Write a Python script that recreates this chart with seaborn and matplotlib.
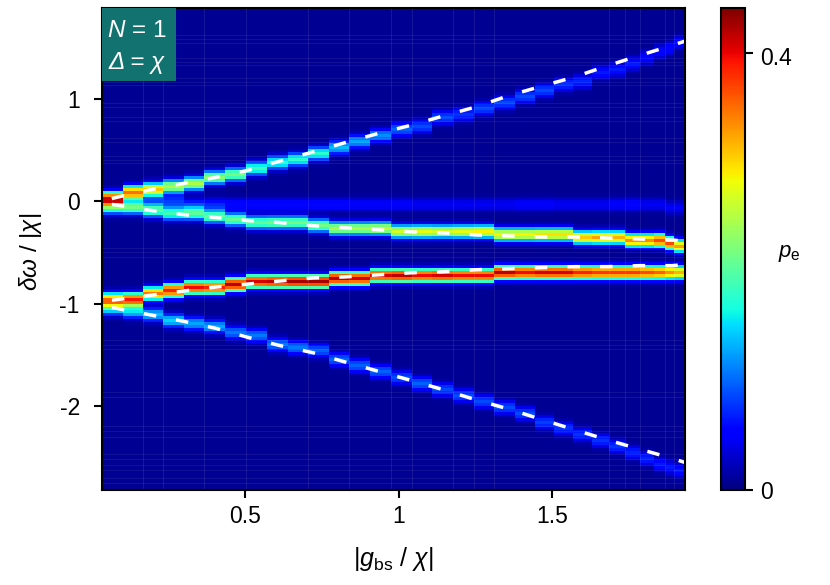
import matplotlib

matplotlib.use("Agg")
import matplotlib.pyplot as plt
from matplotlib.patches import Rectangle
from matplotlib.transforms import ScaledTranslation
import numpy as np
import seaborn as sns

# --- Values ---
X_MIN, X_MAX = 0.033, 1.930
Y_MIN, Y_MAX = -2.82, 1.885
PE_MAX = 0.441
N_ROWS = 161
COLS_PER_UNIT = 307

# Scan points are not evenly spaced, they get closer on the right
COL_EDGES = [0.033, 0.101, 0.166, 0.231, 0.300, 0.365, 0.435, 0.503, 0.570, 0.638, 0.704,
             0.772, 0.837, 0.906, 0.974, 1.042, 1.107, 1.176, 1.244, 1.309, 1.378, 1.443,
             1.505, 1.567, 1.629, 1.684, 1.736, 1.785, 1.831, 1.866, 1.896, 1.930]

# Ridge centres per column
upper_pos = [0.02, 0.08, 0.13, 0.16, 0.19, 0.23, 0.27, 0.32, 0.37, 0.42, 0.47, 0.53, 0.58, 0.63,
             0.69, 0.74, 0.81, 0.86, 0.92, 0.96, 1.03, 1.07, 1.15, 1.18, 1.26, 1.30, 1.35, 1.41,
             1.46, 1.49, 1.54]
inner_up_pos = [-0.05, -0.07, -0.09, -0.11, -0.13, -0.15, -0.17, -0.19, -0.21, -0.21, -0.23, -0.25,
                -0.26, -0.27, -0.28, -0.29, -0.29, -0.30, -0.30, -0.31, -0.32, -0.32, -0.33, -0.34,
                -0.35, -0.36, -0.37, -0.38, -0.39, -0.41, -0.43]
inner_low_pos = [-0.97, -0.95, -0.92, -0.89, -0.86, -0.84, -0.82, -0.80, -0.79, -0.78, -0.78, -0.76,
                 -0.75, -0.74, -0.74, -0.73, -0.73, -0.72, -0.72, -0.71, -0.71, -0.71, -0.71, -0.70,
                 -0.70, -0.70, -0.69, -0.69, -0.69, -0.69, -0.69]
lower_pos = [-1.04, -1.08, -1.11, -1.16, -1.19, -1.23, -1.28, -1.32, -1.39, -1.44, -1.47, -1.54,
             -1.60, -1.67, -1.73, -1.78, -1.85, -1.91, -1.97, -2.02, -2.07, -2.16, -2.22, -2.27,
             -2.33, -2.40, -2.45, -2.50, -2.56, -2.59, -2.63]
middle_pos = [-0.01, -0.01, -0.01, -0.01, -0.02, -0.02, -0.02, -0.02, -0.02, -0.02, -0.02, -0.02,
              -0.02, -0.02, -0.02, -0.02, -0.02, -0.03, -0.03, -0.03, -0.03, -0.03, -0.03, -0.03,
              -0.03, -0.03, -0.03, -0.04, -0.04, -0.05, -0.05]

# Ridge heights per column
upper_amp = [0.38, 0.34, 0.30, 0.24, 0.24, 0.22, 0.21, 0.18, 0.17, 0.17, 0.17, 0.13, 0.12, 0.11,
             0.09, 0.08, 0.08, 0.07, 0.08, 0.08, 0.08, 0.08, 0.07, 0.065, 0.06, 0.06, 0.06, 0.05,
             0.05, 0.05, 0.05]
inner_up_amp = [0.18, 0.20, 0.19, 0.18, 0.19, 0.20, 0.20, 0.20, 0.21, 0.21, 0.21, 0.24, 0.24, 0.25,
                0.26, 0.27, 0.26, 0.27, 0.28, 0.28, 0.28, 0.29, 0.29, 0.30, 0.32, 0.31, 0.33, 0.33,
                0.36, 0.36, 0.32]
inner_low_amp = [0.33, 0.38, 0.34, 0.38, 0.39, 0.38, 0.41, 0.40, 0.41, 0.42, 0.42, 0.41, 0.40, 0.40,
                 0.41, 0.39, 0.40, 0.39, 0.39, 0.41, 0.39, 0.40, 0.40, 0.38, 0.37, 0.37, 0.37, 0.36,
                 0.35, 0.33, 0.31]
lower_amp = [0.15, 0.14, 0.13, 0.14, 0.12, 0.12, 0.10, 0.10, 0.10, 0.10, 0.09, 0.09, 0.09, 0.09,
             0.08, 0.09, 0.08, 0.08, 0.08, 0.08, 0.08, 0.075, 0.07, 0.07, 0.07, 0.07, 0.065, 0.065,
             0.06, 0.06, 0.06]
middle_amp = [0.0, 0.02, 0.05, 0.07, 0.06, 0.06, 0.05, 0.05, 0.05, 0.05, 0.05, 0.05, 0.045, 0.045,
              0.045, 0.04, 0.04, 0.04, 0.04, 0.04, 0.045, 0.045, 0.04, 0.04, 0.04, 0.045, 0.05,
              0.04, 0.04, 0.04, 0.04]

# Cross-section of a ridge, relative height by row offset from the centre
RIDGE_PROFILE = [0.03, 0.12, 0.45, 0.85, 1.0, 0.85, 0.45, 0.12, 0.03]
BACKGROUND = 0.007

# White dashed curves
curve_x = [0.033, 0.085, 0.189, 0.293, 0.401, 0.508, 0.612, 0.720, 0.824, 0.932, 1.039, 1.143,
           1.251, 1.358, 1.463, 1.570, 1.678, 1.782, 1.889, 1.930]
curve_upper = [0.00, 0.04, 0.11, 0.17, 0.23, 0.30, 0.39, 0.48, 0.57, 0.66, 0.74, 0.83, 0.92, 1.03,
               1.12, 1.21, 1.32, 1.42, 1.52, 1.56]
curve_inner_up = [-0.02, -0.04, -0.09, -0.13, -0.16, -0.19, -0.21, -0.24, -0.26, -0.28, -0.30, -0.31,
                  -0.33, -0.34, -0.35, -0.35, -0.36, -0.37, -0.38, -0.39]
curve_inner_low = [-0.98, -0.96, -0.92, -0.88, -0.84, -0.81, -0.78, -0.75, -0.74, -0.72, -0.70, -0.69,
                   -0.67, -0.66, -0.65, -0.64, -0.64, -0.63, -0.63, -0.62]
curve_lower = [-1.02, -1.05, -1.11, -1.17, -1.24, -1.33, -1.41, -1.48, -1.57, -1.66, -1.75, -1.84,
               -1.94, -2.03, -2.13, -2.23, -2.33, -2.42, -2.51, -2.55]

X_TICKS = [0.5, 1, 1.5]
X_TICK_LABELS = ["0.5", "1", "1.5"]
Y_TICKS = [1, 0, -1, -2]
Y_TICK_LABELS = ["1", "0", "-1", "-2"]

# Faint seams the image has between some scan points / frequency rows
V_SEAMS = [0.166, 0.231, 0.365, 0.503, 0.704, 0.837, 0.974, 1.042, 1.176, 1.244, 1.309, 1.684,
           1.736, 1.785, 1.866, 1.896]
H_SEAMS = [1.62, 1.58, 1.54, 1.40, 1.36, 1.33, 1.20, 1.16, 1.13, 0.96, 0.92, 0.82, 0.78, 0.62,
           0.58, 0.44, 0.40, 0.37, -0.55, -0.50, -0.46, -1.36, -1.40, -1.44, -1.86, -1.91, -2.20,
           -2.24, -2.30, -2.47, -2.52, -2.58, -2.62, -2.70, -2.75]


def x_pos(values):
    """Data value to heatmap column coordinate."""
    return (np.asarray(values, dtype=float) - X_MIN) / (X_MAX - X_MIN) * n_cols


def y_pos(values):
    """Data value to heatmap row coordinate (row 0 at the top)."""
    return (Y_MAX - np.asarray(values, dtype=float)) / (Y_MAX - Y_MIN) * N_ROWS


widths = np.round(np.diff(COL_EDGES) * COLS_PER_UNIT).astype(int)
n_cols = int(widths.sum())

grid = np.full((N_ROWS, len(widths)), BACKGROUND)
half = len(RIDGE_PROFILE) // 2
ridges = [
    (upper_pos, upper_amp),
    (inner_up_pos, inner_up_amp),
    (inner_low_pos, inner_low_amp),
    (lower_pos, lower_amp),
    (middle_pos, middle_amp),
]
for positions, heights in ridges:
    for col, (pos, height) in enumerate(zip(positions, heights)):
        centre = int(y_pos(pos))
        for k, rel in enumerate(RIDGE_PROFILE):
            row = centre + k - half
            if 0 <= row < N_ROWS:
                grid[row, col] += height * rel
image = np.repeat(grid, widths, axis=1)

# --- Plotting ---
sns.set_theme(style="ticks")
plt.rcParams["font.family"] = ["Liberation Sans", "DejaVu Sans"]
plt.rcParams["mathtext.fontset"] = "custom"
plt.rcParams["mathtext.rm"] = "Liberation Sans"
plt.rcParams["mathtext.it"] = "Liberation Sans:italic"
plt.rcParams["mathtext.bf"] = "Liberation Sans:bold"

W, H = 830, 585
fig = plt.figure(figsize=(W / 100, H / 100), dpi=100)
ax = fig.add_axes([102 / W, 1 - 490 / H, 582.5 / W, 482 / H])
cax = fig.add_axes([721 / W, 1 - 490 / H, 24 / W, 482 / H])

sns.heatmap(
    image,
    ax=ax,
    cbar_ax=cax,
    cmap="jet",
    vmin=0,
    vmax=PE_MAX,
    xticklabels=False,
    yticklabels=False,
    cbar_kws={"ticks": [0, 0.4]},
)

ax.vlines(x_pos(V_SEAMS), 0, N_ROWS, color="white", alpha=0.09, lw=0.8)
ax.hlines(y_pos(H_SEAMS), 0, n_cols, color="white", alpha=0.07, lw=0.7)

for curve in [curve_upper, curve_inner_up, curve_inner_low, curve_lower]:
    ax.plot(x_pos(curve_x), y_pos(curve), color="white", lw=2.5,
            linestyle=(6.5, (3.6, 5.8)), dash_capstyle="butt")

ax.set_xticks(x_pos(X_TICKS), X_TICK_LABELS)
ax.set_yticks(y_pos(Y_TICKS), Y_TICK_LABELS)
ax.tick_params(axis="both", length=6, width=1.5, color="black", labelsize=16.5, labelcolor="black",
               bottom=True, left=True, pad=5)
ax.tick_params(axis="y", labelrotation=0, pad=10)
for spine in ax.spines.values():
    spine.set_visible(True)
    spine.set_linewidth(1.5)
    spine.set_color("black")

cbar = ax.collections[0].colorbar
cbar.ax.set_yticklabels(["0", "0.4"])
cbar.ax.tick_params(length=6, width=1.5, color="black", labelsize=16.5, labelcolor="black", pad=5)
cbar.outline.set_visible(True)
cbar.outline.set_linewidth(1.5)
cbar.outline.set_edgecolor("black")
# the 0.4 label sits a little under its tick in the original
label_04 = cbar.ax.get_yticklabels()[1]
label_04.set_transform(label_04.get_transform() + ScaledTranslation(0, -3 / 100, fig.dpi_scale_trans))

ax.add_patch(Rectangle((0, 1 - 73 / 482), 73.5 / 582.5, 73 / 482, transform=ax.transAxes,
                       facecolor="#12726f", edgecolor="none", zorder=5))
fig.text(137 / W, 1 - 31 / H, r"$N$ = 1", color="white", fontsize=17.5, ha="center", va="center")
fig.text(137 / W, 1 - 62 / H, "Δ = χ", color="white", fontsize=17.5, fontstyle="italic",
         ha="center", va="center")

fig.text(393 / W, 1 - 559 / H, r"$|g_{\mathrm{bs}}$ / $\chi|$", color="black", fontsize=18,
         ha="center", va="center")
fig.text(31 / W, 1 - 252 / H, r"$\delta\omega$ / $|\chi|$", color="black", fontsize=17.5,
         ha="center", va="center", rotation=90)
fig.text(789 / W, 1 - 254 / H, r"$p_{\mathrm{e}}$", color="black", fontsize=16, ha="center", va="center")

fig.savefig("out.png", dpi=100)
